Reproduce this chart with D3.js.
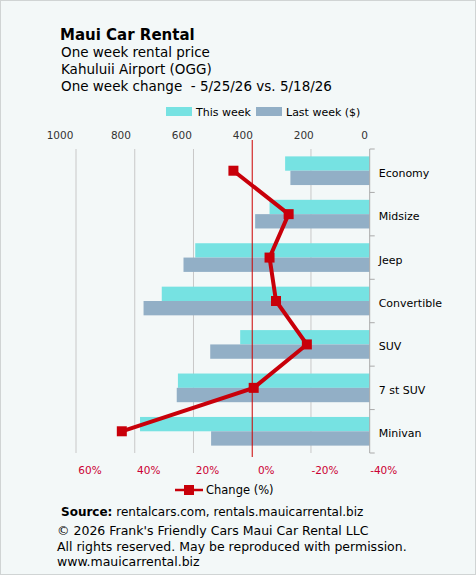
<!DOCTYPE html><html><head><meta charset="utf-8"><script src="https://cdn.jsdelivr.net/npm/d3@7"></script>
<style>body{margin:0;background:#f3f8f8}text{font-family:Tahoma,"DejaVu Sans",sans-serif}</style></head><body>
<svg id="c" width="476" height="575"></svg>
<script>
const categories=["Economy","Midsize","Jeep","Convertible","SUV","7 st SUV","Minivan"];
const thisWeek=[288,341,594,708,441,653,782];
const lastWeek=[270,390,634,770,543,657,540];
const change=[6.4,-12.4,-5.9,-8.1,-18.6,-0.5,44.4];
const valueTicks=[1000,800,600,400,200,0];
const pctTicks=[60,40,20,0,-20,-40];
const svg=d3.select("#c");
svg.append("rect").attr("x",0.5).attr("y",0.5).attr("width",475).attr("height",574).attr("fill","#f3f8f8").attr("stroke","#d0d4d4");
const L=76,R=369.7,T=149,B=453;
const x=d3.scaleLinear().domain([0,1000]).range([R,L]);
const xp=d3.scaleLinear().domain([-40,60]).range([R,L]);
const y=d3.scaleBand().domain(categories).range([T,B]);
const t=svg.append("g");
[["Maui Car Rental",40,"bold",15],["One week rental price",57,"normal",13.5],["Kahuluii Airport (OGG)",74,"normal",13.5],["One week change\u00a0\u00a0- 5/25/26 vs. 5/18/26",91,"normal",13.5]].forEach((d,i)=>t.append("text").attr("x",i?61:60).attr("y",d[1]).attr("font-weight",d[2]).attr("font-size",d[3]).attr("fill","#000").text(d[0]));
const lg=svg.append("g").attr("font-size",11);
lg.append("rect").attr("x",166).attr("y",107).attr("width",26).attr("height",9).attr("fill","#76e2e2");
lg.append("text").attr("x",196).attr("y",116).text("This week");
lg.append("rect").attr("x",256).attr("y",107).attr("width",26).attr("height",9).attr("fill","#92afc6");
lg.append("text").attr("x",286).attr("y",116).text("Last week ($)");
valueTicks.forEach(v=>{ if(v>0&&v!==400) svg.append("line").attr("x1",x(v)).attr("x2",x(v)).attr("y1",T).attr("y2",B).attr("stroke","#c8c8c8");});
svg.append("g").selectAll("text").data(valueTicks).join("text").attr("x",d=>x(d)-5-d/1000*11).attr("y",139).attr("text-anchor","middle").attr("font-size",10.5).attr("fill","#333").text(d=>d);
const bh=y.bandwidth()*0.33;
svg.append("g").selectAll("rect").data(categories).join("rect").attr("x",(d,i)=>x(thisWeek[i])).attr("width",(d,i)=>R-x(thisWeek[i])).attr("y",d=>y(d)+y.bandwidth()*0.17).attr("height",bh).attr("fill","#76e2e2");
svg.append("g").selectAll("rect").data(categories).join("rect").attr("x",(d,i)=>x(lastWeek[i])).attr("width",(d,i)=>R-x(lastWeek[i])).attr("y",d=>y(d)+y.bandwidth()*0.5).attr("height",bh).attr("fill","#92afc6");
svg.append("line").attr("x1",xp(0)).attr("x2",xp(0)).attr("y1",140).attr("y2",B+4).attr("stroke","#cc0000").attr("stroke-width",1);
svg.append("line").attr("x1",R).attr("x2",R).attr("y1",T).attr("y2",B).attr("stroke","#aaa");
categories.concat([null]).forEach((d,i)=>{const yy=T+i*y.step();svg.append("line").attr("x1",R).attr("x2",R+5).attr("y1",yy).attr("y2",yy).attr("stroke","#aaa");});
svg.append("g").selectAll("text").data(categories).join("text").attr("x",R+9).attr("y",d=>y(d)+y.bandwidth()/2+6).attr("font-size",11).attr("fill","#000").text(d=>d);
const pts=categories.map((d,i)=>[xp(change[i]),y(d)+y.bandwidth()/2]);
svg.append("path").attr("d",d3.line()(pts)).attr("fill","none").attr("stroke","#c8000a").attr("stroke-width",4);
svg.append("g").selectAll("rect").data(pts).join("rect").attr("x",d=>d[0]-5).attr("y",d=>d[1]-5).attr("width",10).attr("height",10).attr("fill","#c8000a");
svg.append("g").selectAll("text").data(pctTicks).join("text").attr("x",d=>xp(d)+14).attr("y",474).attr("text-anchor","middle").attr("font-size",10.5).attr("fill","#cc0033").text(d=>d+"%");
svg.append("line").attr("x1",175).attr("x2",203).attr("y1",490).attr("y2",490).attr("stroke","#c8000a").attr("stroke-width",2.5);
svg.append("rect").attr("x",184).attr("y",485).attr("width",10).attr("height",10).attr("fill","#c8000a");
svg.append("text").attr("x",206).attr("y",494).attr("font-size",11.5).text("Change (%)");
const s=svg.append("text").attr("x",61).attr("y",516).attr("font-size",12);
s.append("tspan").attr("font-weight","bold").text("Source:");
s.append("tspan").text(" rentalcars.com, rentals.mauicarrental.biz");
["© 2026 Frank's Friendly Cars Maui Car Rental LLC","All rights reserved. May be reproduced with permission.","www.mauicarrental.biz"].forEach((d,i)=>svg.append("text").attr("x",57).attr("y",535+i*15.5).attr("font-size",12.5).text(d));
</script></body></html>
